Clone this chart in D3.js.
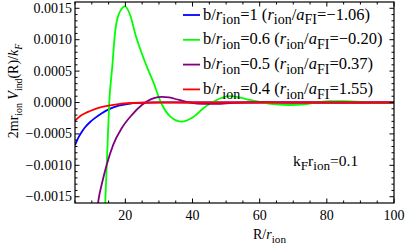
<!DOCTYPE html>
<html>
<head>
<meta charset="utf-8">
<title>Induced potential</title>
<script src="https://d3js.org/d3.v7.min.js"></script>
<style>
  body { margin: 0; background: #fff; }
  text { font-family: "Liberation Serif", "DejaVu Serif", serif; fill: #000; }
</style>
</head>
<body>
<div id="chart"></div>
<script>
/* global d3 */

// values (R / r_ion  ->  2 m r_ion V_ind / k_F)
const rBlue = [5, 6, 7, 8, 9.5, 11, 13, 15, 18, 21, 25, 30, 40, 60, 100];
const vBlue = [-0.00068, -0.00056, -0.00047, -0.000395, -0.00031, -0.000245, -0.00017, -0.00011, -0.00005, -0.00002, -0.000005, 0.000002, 0, 0, 0];

const rGreen = [13.6, 14.0, 14.6, 15.2, 16.1, 16.9, 18.0, 19.9, 21.5, 22.9, 24.5, 26.4, 28.5, 30.6, 33.4, 36.8, 40, 43.5, 45.8, 48, 51, 54, 57, 61, 65, 69, 73, 77, 81, 85, 90, 95, 100];
const vGreen = [-0.0021, -0.0016, -0.0008, 0.0, 0.00057, 0.0011, 0.0014, 0.00153, 0.00138, 0.0011, 0.00084, 0.00057, 0.0003, 0.0, -0.000225, -0.000305, -0.00024, -0.00008, 0.0, 0.00006, 0.0001, 0.00008, 0.00004, 0.0, -0.00003, -0.00004, -0.00003, 0.0, 0.00002, 0.00002, 0.00001, -0.00001, -0.00001];

const rPurple = [11.4, 12.0, 13.2, 14.4, 16.4, 18.9, 21.9, 24.9, 26.5, 28.5, 30.9, 33, 36, 39.3, 43, 47, 52, 60, 70, 100];
const vPurple = [-0.0018, -0.00155, -0.00125, -0.001, -0.00067, -0.00041, -0.0002, -0.00004, 0.00002, 0.00007, 0.00009, 0.00008, 0.00004, 0.0, -0.00002, -0.00002, -0.000005, 0.000005, 0, 0];

const rRed = [5, 6, 7, 8, 9.5, 12, 15, 18, 22, 26, 40, 100];
const vRed = [-0.00029, -0.00024, -0.0002, -0.00017, -0.000135, -0.000085, -0.00005, -0.000025, -0.000008, 0, 0, 0];

const xTicks = [20, 40, 60, 80, 100];
const yTicks = [-0.0015, -0.0010, -0.0005, 0.0, 0.0005, 0.0010, 0.0015];
const yTickLabels = ['\u22120.0015', '\u22120.0010', '\u22120.0005', '0.0000', '0.0005', '0.0010', '0.0015'];

// legend: b / r_ion and r_ion / a_FI
const legendB = ['1', '0.6', '0.5', '0.4'];
const legendA = ['\u22121.06', '\u22120.20', '0.37', '1.55'];
const colors = ['#0000ff', '#00ff00', '#800080', '#ff0000'];

const W = 407, H = 244;
const frame = { left: 75, right: 394, top: 2, bottom: 203 };

const svg = d3.select('#chart')
  .append('svg')
    .attr('width', W)
    .attr('height', H);

const x = d3.scaleLinear().domain([5, 100]).range([frame.left, frame.right]);
const y = d3.scaleLinear().domain([-0.0016, 0.0016]).range([frame.bottom, frame.top]);

svg.append('clipPath').attr('id', 'clip')
  .append('rect')
    .attr('x', frame.left).attr('y', frame.top)
    .attr('width', frame.right - frame.left)
    .attr('height', frame.bottom - frame.top);

// curves
const series = [
  [rBlue, vBlue], [rGreen, vGreen], [rPurple, vPurple], [rRed, vRed]
];
const line = d3.line()
  .x(d => x(d[0]))
  .y(d => y(d[1]))
  .curve(d3.curveMonotoneX);

const curves = svg.append('g').attr('clip-path', 'url(#clip)');
series.forEach((s, i) => {
  curves.append('path')
    .datum(d3.zip(s[0], s[1]))
    .attr('d', line)
    .attr('fill', 'none')
    .attr('stroke', colors[i])
    .attr('stroke-width', 1.8);
});

// frame with inward ticks on all four sides
const frameG = svg.append('g');
frameG.append('rect')
  .attr('x', frame.left).attr('y', frame.top)
  .attr('width', frame.right - frame.left)
  .attr('height', frame.bottom - frame.top)
  .attr('fill', 'none')
  .attr('stroke', '#000')
  .attr('stroke-width', 1.2);

const xMinor = d3.range(5, 101, 5);
const yMinor = d3.range(-15, 16).map(k => k * 0.0001);

function tickLen(major) { return major ? 4.5 : 2.5; }

xMinor.forEach(v => {
  const major = v % 20 === 0;
  const px = x(v);
  frameG.append('line').attr('x1', px).attr('x2', px)
    .attr('y1', frame.bottom).attr('y2', frame.bottom - tickLen(major))
    .attr('stroke', '#000');
  frameG.append('line').attr('x1', px).attr('x2', px)
    .attr('y1', frame.top).attr('y2', frame.top + tickLen(major))
    .attr('stroke', '#000');
});
yMinor.forEach((v, k) => {
  const major = (k % 5) === 0;
  const py = y(v);
  frameG.append('line').attr('y1', py).attr('y2', py)
    .attr('x1', frame.left).attr('x2', frame.left + tickLen(major))
    .attr('stroke', '#000');
  frameG.append('line').attr('y1', py).attr('y2', py)
    .attr('x1', frame.right).attr('x2', frame.right - tickLen(major))
    .attr('stroke', '#000');
});

// tick labels
svg.append('g').selectAll('text')
  .data(xTicks)
  .join('text')
    .attr('x', d => x(d))
    .attr('y', 220)
    .attr('text-anchor', 'middle')
    .attr('font-size', 14)
    .text(d => d);

svg.append('g').selectAll('text')
  .data(yTicks)
  .join('text')
    .attr('x', 72)
    .attr('y', d => y(d) + 4.5)
    .attr('text-anchor', 'end')
    .attr('font-size', 14)
    .text((d, i) => yTickLabels[i]);

// rich text helper: parts are [string, flags], i = italic, s = subscript
function rich(sel, parts, size, subScale) {
  const k = subScale || 0.7;
  let down = false;
  parts.forEach(p => {
    const sub = p[1].includes('s');
    const ts = sel.append('tspan')
      .text(p[0])
      .attr('font-size', sub ? size * k : size);
    if (p[1].includes('i')) ts.attr('font-style', 'italic');
    if (sub && !down) { ts.attr('dy', size * 0.28); down = true; }
    else if (!sub && down) { ts.attr('dy', -size * 0.28); down = false; }
  });
  return sel;
}

// axis titles
rich(svg.append('text')
    .attr('x', 253).attr('y', 239), [['R/', ''], ['r', 'i'], ['ion', 's']], 14, 0.8);

rich(svg.append('text')
    .attr('transform', 'translate(18, 91) rotate(-90)')
    .attr('text-anchor', 'middle'),
  [['2mr', ''], ['ion', 's'], [' ', ''], ['V', 'i'], ['ind', 's'], ['(R)/', ''], ['k', 'i'], ['F', 'is']], 14);

rich(svg.append('text')
    .attr('x', 293).attr('y', 166),
  [['k', ''], ['F', 's'], ['r', ''], ['ion', 's'], ['=0.1', '']], 15.5, 0.85);

// legend
const legend = svg.append('g');
legendB.forEach((b, i) => {
  const ly = 15 + i * 24.8;
  legend.append('line')
    .attr('x1', 183).attr('x2', 200)
    .attr('y1', ly).attr('y2', ly)
    .attr('stroke', colors[i])
    .attr('stroke-width', 1.8);
  rich(legend.append('text').attr('x', 203).attr('y', ly + 4.5),
    [['b/', ''], ['r', 'i'], ['ion', 's'], ['=' + b + ' (', ''], ['r', 'i'], ['ion', 's'],
     ['/', ''], ['a', 'i'], ['FI', 's'], ['=' + legendA[i] + ')', '']], 16.5, 0.85);
});
</script>
</body>
</html>
